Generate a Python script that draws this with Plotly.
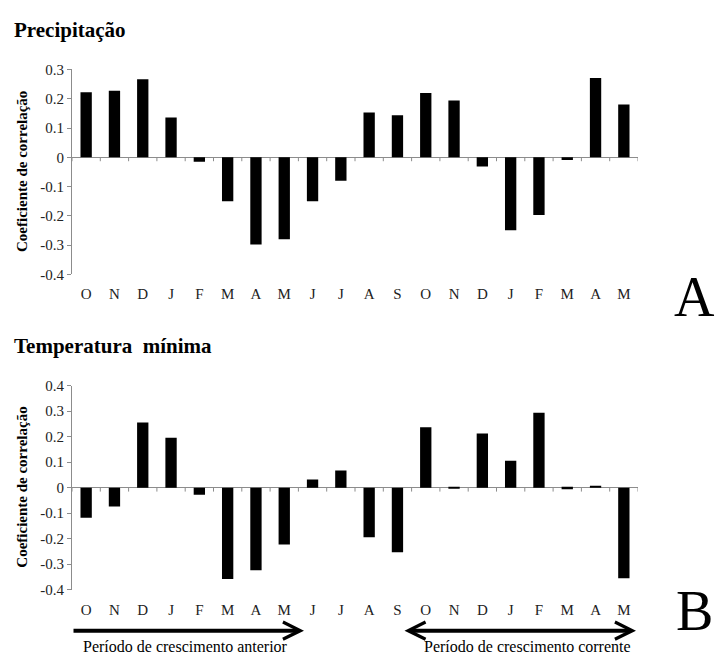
import plotly.graph_objects as go

months = ["O", "N", "D", "J", "F", "M", "A", "M", "J", "J",
          "A", "S", "O", "N", "D", "J", "F", "M", "A", "M"]

precip = [0.222, 0.227, 0.267, 0.136, -0.015, -0.150, -0.298, -0.280, -0.150, -0.080,
          0.153, 0.144, 0.220, 0.194, -0.031, -0.249, -0.197, -0.009, 0.271, 0.180]

tmin = [-0.118, -0.074, 0.256, 0.196, -0.028, -0.358, -0.324, -0.223, 0.032, 0.067,
        -0.194, -0.253, 0.237, -0.004, 0.212, 0.106, 0.294, -0.006, 0.006, -0.355]

ticks_a = [0.3, 0.2, 0.1, 0, -0.1, -0.2, -0.3, -0.4]
ticklabels_a = ["0.3", "0.2", "0.1", "0", "-0.1", "-0.2", "-0.3", "-0.4"]
ticks_b = [0.4, 0.3, 0.2, 0.1, 0, -0.1, -0.2, -0.3, -0.4]
ticklabels_b = ["0.4", "0.3", "0.2", "0.1", "0", "-0.1", "-0.2", "-0.3", "-0.4"]

W, H = 715, 665
FONT = "Liberation Serif, Times New Roman, serif"
GRAY = "#8c8c8c"

def px(x):
    return x / W

def py(y):
    return 1 - y / H

xdom = [px(72), px(638)]
dom_a = [py(273), py(63)]
dom_b = [py(596), py(387)]
range_a = [-0.4, 0.3]
range_b = [-0.4, 0.4]

xs = list(range(len(months)))

fig = go.Figure()
fig.add_trace(go.Bar(x=xs, y=precip, marker=dict(color="black", line=dict(width=0)),
                     width=0.4, xaxis="x", yaxis="y", showlegend=False))
fig.add_trace(go.Bar(x=xs, y=tmin, marker=dict(color="black", line=dict(width=0)),
                     width=0.4, xaxis="x2", yaxis="y2", showlegend=False))

# small tick marks along the zero line at category boundaries
def zero_ticks(dom, rng, xa, ya):
    hpx = (dom[1] - dom[0]) * H
    L = 4 * (rng[1] - rng[0]) / hpx
    tx, ty = [], []
    for i in range(len(months) + 1):
        b = i - 0.5
        tx += [b, b, None]
        ty += [0, -L, None]
    fig.add_trace(go.Scatter(x=tx, y=ty, mode="lines", line=dict(color=GRAY, width=1),
                             xaxis=xa, yaxis=ya, showlegend=False, hoverinfo="skip"))

zero_ticks(dom_a, range_a, "x", "y")
zero_ticks(dom_b, range_b, "x2", "y2")

xcommon = dict(range=[-0.5, len(months) - 0.5], tickmode="array", tickvals=xs,
               ticktext=months, showline=False, showgrid=False, zeroline=False,
               ticks="", tickfont=dict(family=FONT, size=15, color="#222"),
               domain=xdom, fixedrange=True)
ycommon = dict(showline=True, linecolor=GRAY, linewidth=1, ticks="outside",
               ticklen=4, tickcolor=GRAY, showgrid=False, zeroline=True,
               zerolinecolor=GRAY, zerolinewidth=1,
               tickfont=dict(family=FONT, size=15, color="#222"), fixedrange=True)

fig.update_layout(
    width=W, height=H,
    margin=dict(l=0, r=0, t=0, b=0),
    paper_bgcolor="white", plot_bgcolor="white",
    font=dict(family=FONT, color="black"),
    bargap=0.6,
    xaxis=dict(anchor="y", ticklabelstandoff=9, **xcommon),
    xaxis2=dict(anchor="y2", ticklabelstandoff=9, **xcommon),
    yaxis=dict(domain=dom_a, range=range_a, tickvals=ticks_a, ticktext=ticklabels_a,
               anchor="x", **ycommon),
    yaxis2=dict(domain=dom_b, range=range_b, tickvals=ticks_b, ticktext=ticklabels_b,
                anchor="x2", **ycommon),
)

ann = []
ann.append(dict(text="<b>Precipitação</b>", x=px(12), y=py(23), xref="paper", yref="paper",
                xanchor="left", yanchor="middle", showarrow=False,
                font=dict(family=FONT, size=21, color="black")))
ann.append(dict(text="<b>Temperatura  mínima</b>", x=px(12), y=py(346), xref="paper",
                yref="paper", xanchor="left", yanchor="middle", showarrow=False,
                font=dict(family=FONT, size=21, color="black")))
for dom in (dom_a, dom_b):
    ann.append(dict(text="<b>Coeficiente de correlação</b>", x=px(22),
                    y=(dom[0] + dom[1]) / 2, xref="paper", yref="paper",
                    xanchor="center", yanchor="middle", textangle=-90, showarrow=False,
                    font=dict(family=FONT, size=15, color="black")))
ann.append(dict(text="A", x=px(694), y=py(296), xref="paper", yref="paper",
                xanchor="center", yanchor="middle", showarrow=False,
                font=dict(family=FONT, size=56, color="black")))
ann.append(dict(text="B", x=px(694), y=py(618), xref="paper", yref="paper",
                xanchor="center", yanchor="middle", showarrow=False,
                font=dict(family=FONT, size=56, color="black")))
# period arrows (tail offset given in pixels)
ann.append(dict(x=px(304), y=py(638), ax=72 - 304, ay=0, xref="paper", yref="paper",
                axref="pixel", ayref="pixel", text="", showarrow=True, arrowhead=5,
                arrowsize=0.85, arrowwidth=4, arrowcolor="black", arrowside="end"))
ann.append(dict(x=px(636), y=py(638), ax=403 - 636, ay=0, xref="paper", yref="paper",
                axref="pixel", ayref="pixel", text="", showarrow=True, arrowhead=5,
                arrowsize=0.85, arrowwidth=4, arrowcolor="black", arrowside="end+start"))
ann.append(dict(text="Período de crescimento anterior", x=px(185), y=0, xref="paper",
                yref="paper", xanchor="center", yanchor="bottom", showarrow=False,
                font=dict(family=FONT, size=16, color="black")))
ann.append(dict(text="Período de crescimento corrente", x=px(527), y=0, xref="paper",
                yref="paper", xanchor="center", yanchor="bottom", showarrow=False,
                font=dict(family=FONT, size=16, color="black")))
fig.update_layout(annotations=ann)

post = (
    "document.documentElement.style.margin='0';"
    "document.body.style.margin='0';document.body.style.padding='0';"
    "document.body.style.overflow='hidden';"
    "var d=document.getElementsByClassName('plotly-graph-div')[0];"
    "d.style.position='fixed';d.style.top='0px';d.style.left='0px';"
)
fig.write_html("out.html", config={"displayModeBar": False}, post_script=post)
